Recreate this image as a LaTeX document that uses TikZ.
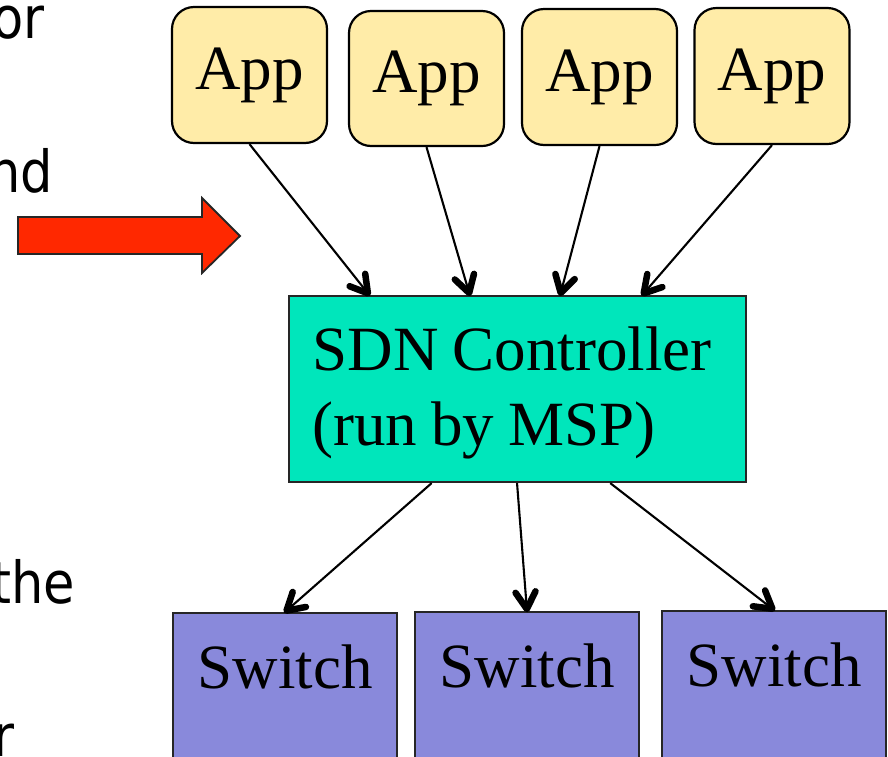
\documentclass[tikz,border=0pt]{standalone}
\usepackage{fontspec}
\setmainfont{Liberation Serif}
\newfontfamily\sidefont[FakeStretch=0.88]{DejaVu Sans}
\usetikzlibrary{calc,decorations.markings}

\definecolor{appfill}{HTML}{FFECA8}
\definecolor{ctrlfill}{HTML}{00E6BB}
\definecolor{swfill}{HTML}{8989DB}
\definecolor{redarrow}{HTML}{FF2800}

\begin{document}
\begin{tikzpicture}[x=1pt,y=-1pt,
  boxfont/.style={font=\fontsize{63}{75}\selectfont},
  appbox/.style={draw=black, line width=2.2pt, fill=appfill, rounded corners=22pt,
    minimum width=155pt, minimum height=136pt, inner sep=0pt, boxfont},
  ctrlbox/.style={draw=black!85, line width=2.2pt, fill=ctrlfill,
    minimum width=457pt, minimum height=186pt, inner sep=0pt,
    text width=410pt, align=left, text height=74pt, text depth=112pt, boxfont},
  swbox/.style={draw=black!85, line width=2.2pt, fill=swfill, anchor=north,
    minimum width=224pt, inner sep=0pt, text height=75pt, text depth=90pt, boxfont},
  % thin connector ending in a bold open V head
  conn/.style={line width=2.1pt,
    postaction={decorate, decoration={markings, mark=at position 1 with {
      \draw[line width=6.5pt, line cap=round, line join=round]
        (-19pt,10pt) -- (-2pt,0pt) -- (-19pt,-10pt);}}}},
  sidetext/.style={font=\sidefont\fontsize{58}{75}\selectfont, inner sep=0pt, anchor=base east},
]
\useasboundingbox (0,0) rectangle (888,756);
\clip (0,0) rectangle (888,756);

% fragments of the neighbouring bullet text
\node[sidetext] (t1) at (45,38) {or};
\node[sidetext] (t2) at (53,192) {nd};
\node[sidetext] (t3) at (75,603) {the};
\node[sidetext] (t4) at (15,756) {r};

% red block arrow
\draw[fill=redarrow, draw=black!85, line width=1.8pt, line join=miter]
  (18,217) -- (202,217) -- (202,198) -- (240,236) -- (202,273) -- (202,254) -- (18,254) -- cycle;

% applications
\node[appbox] (app1) at (249.5,75) {App};
\node[appbox, minimum height=135pt] (app2) at (426.5,78.5) {App};
\node[appbox] (app3) at (599.5,77) {App};
\node[appbox] (app4) at (772,76) {App};

% controller
\node[ctrlbox] (ctrl) at (517.5,389) {\spaceskip=14pt\relax SDN Controller\\(run by MSP)};

% switches
\node[swbox] (sw1) at (285,612) {Switch};
\node[swbox] (sw2) at (527,611) {Switch};
\node[swbox] (sw3) at (774,610) {Switch};

% apps to controller
\draw[conn] (app1.south) -- ($(ctrl.north west)!0.177!(ctrl.north east)$);
\draw[conn] (app2.south) -- ($(ctrl.north west)!0.396!(ctrl.north east)$);
\draw[conn] (app3.south) -- ($(ctrl.north west)!0.593!(ctrl.north east)$);
\draw[conn] (app4.south) -- ($(ctrl.north west)!0.772!(ctrl.north east)$);

% controller to switches
\draw[conn] ($(ctrl.south west)!0.313!(ctrl.south east)$) -- (sw1.north);
\draw[conn] ($(ctrl.south west)!0.499!(ctrl.south east)$) -- (sw2.north);
\draw[conn] ($(ctrl.south west)!0.702!(ctrl.south east)$) -- (sw3.north);
\end{tikzpicture}
\end{document}
